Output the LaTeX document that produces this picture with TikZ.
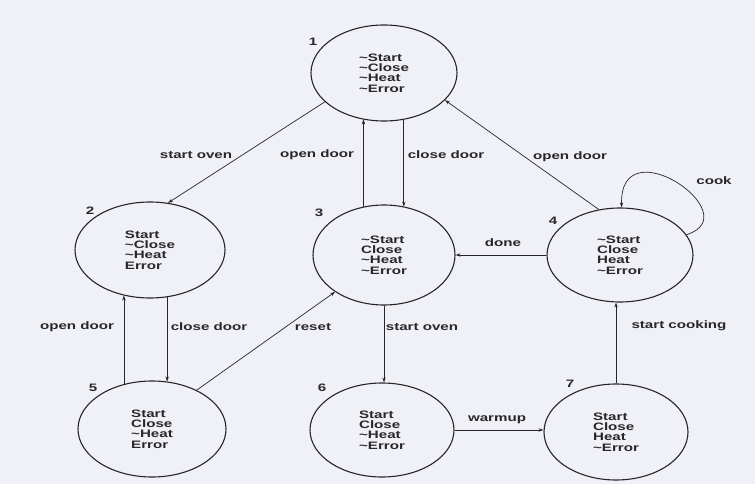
\documentclass[tikz,border=0pt]{standalone}
\usepackage{fontspec}
\usetikzlibrary{shapes.geometric,arrows.meta}
\newfontfamily\lab[FakeStretch=1.4]{Liberation Sans}
\newcommand{\mytilde}{\textasciitilde}
\definecolor{bg}{RGB}{240,241,246}
\definecolor{ink}{RGB}{38,38,42}
\definecolor{txt}{RGB}{40,40,44}
\tikzset{
  state/.style={ellipse, draw=ink, line width=1.1pt, inner sep=0pt,
    minimum width=146pt, minimum height=96pt, align=left, text=txt,
    font=\lab\bfseries\fontsize{10.8}{10.4}\selectfont},
  lbl/.style={text=txt, inner sep=0pt, font=\lab\bfseries\fontsize{10.8}{10.4}\selectfont},
  conn/.style={draw=ink, line width=0.7pt, -{Stealth[length=5pt,width=3.4pt]}}
}
\begin{document}
\begin{tikzpicture}[x=1pt,y=-1pt]
\fill[bg] (0,0) rectangle (755,484);
\useasboundingbox (0,0) rectangle (755,484);
% states
\node[state] (n1) at (384,73) {\mytilde Start\\\mytilde Close\\\mytilde Heat\\\mytilde Error};
\node[state, minimum width=150pt] (n2) at (150,250) {Start\\\mytilde Close\\\mytilde Heat\\Error};
\node[state, minimum width=142pt, minimum height=100pt] (n3) at (384,255) {\mytilde Start\\Close\\\mytilde Heat\\\mytilde Error};
\node[state, minimum height=94pt] (n4) at (620,255) {\mytilde Start\\Close\\Heat\\\mytilde Error};
\node[state, minimum width=148pt] (n5) at (152,429) {Start\\Close\\\mytilde Heat\\Error};
\node[state, minimum width=144pt, minimum height=94pt] (n6) at (382,430) {Start\\Close\\\mytilde Heat\\\mytilde Error};
\node[state, minimum width=144pt] (n7) at (616,432) {Start\\Close\\Heat\\\mytilde Error};
% state numbers
\node[lbl] (l1) at (313,42) {1};
\node[lbl] (l2) at (90,211) {2};
\node[lbl] (l3) at (319,213) {3};
\node[lbl] (l4) at (553,221) {4};
\node[lbl] (l5) at (93,388) {5};
\node[lbl] (l6) at (322,388) {6};
\node[lbl] (l7) at (570,384) {7};
% connectors
\draw[conn] (n1.206) -- (n2.69.4);
\draw[conn] (n3.113.7) -- (n3.113.7 |- n1.245.4);
\draw[conn] (n1.293.5) -- (n1.293.5 |- n3.67.4);
\draw[conn] (n4.115) -- (n1.336.3);
\draw[conn] (n4.17) .. controls (750,215) and (619,125) .. (n4.88);
\draw[conn] (n4.west) -- (n3.east);
\draw[conn] (n2.290) -- (n2.290 |- n5.72.3);
\draw[conn] (n5.122.2) -- (n5.122.2 |- n2.240);
\draw[conn] (n5.41.6) -- (n3.217.1);
\draw[conn] (n3.south) -- (n3.south |- n6.north);
\draw[conn] (n6.east) -- (n6.east -| n7.west);
\draw[conn] (n7.north) -- (n7.north |- n4.south);
% connector labels
\node[lbl] (t1) at (196,155) {start oven};
\node[lbl] (t2) at (317,155) {open door};
\node[lbl] (t3) at (446,155) {close door};
\node[lbl] (t4) at (570,157) {open door};
\node[lbl] (t5) at (714,181) {cook};
\node[lbl] (t6) at (503,243) {done};
\node[lbl] (t7) at (77,327) {open door};
\node[lbl] (t8) at (209,327) {close door};
\node[lbl] (t9) at (313,327) {reset};
\node[lbl] (t10) at (422,327) {start oven};
\node[lbl] (t11) at (679,326) {start cooking};
\node[lbl] (t12) at (497,420) {warmup};
\end{tikzpicture}
\end{document}
